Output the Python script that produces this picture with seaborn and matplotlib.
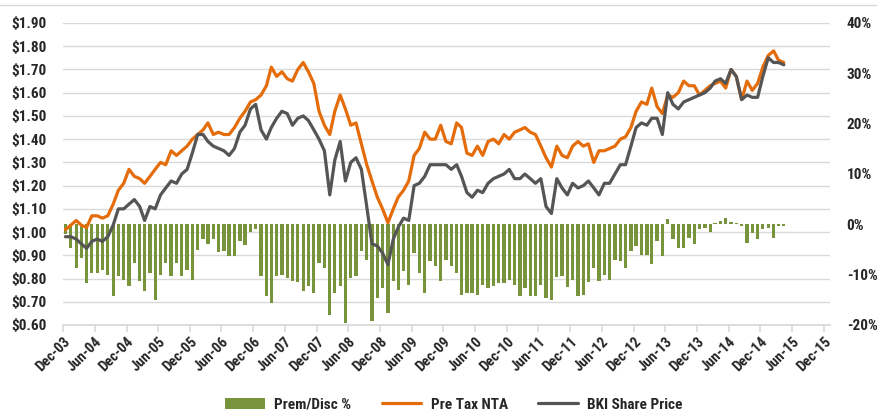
import matplotlib
matplotlib.use("Agg")
import matplotlib.pyplot as plt
import matplotlib.dates as mdates
from matplotlib import font_manager
from matplotlib.lines import Line2D
from matplotlib.patches import Patch
import pandas as pd
import seaborn as sns

# monthly values, Dec-03 .. Apr-15
start_month = "2003-12-01"

pre_tax_nta = [
    1.01, 1.03, 1.05, 1.03, 1.02, 1.07, 1.07, 1.06, 1.07, 1.12,
    1.18, 1.21, 1.27, 1.24, 1.23, 1.21, 1.24, 1.27, 1.30, 1.29,
    1.35, 1.33, 1.35, 1.37, 1.40, 1.42, 1.44, 1.47, 1.42, 1.43,
    1.42, 1.42, 1.45, 1.49, 1.52, 1.56, 1.57, 1.59, 1.63, 1.71,
    1.67, 1.69, 1.66, 1.65, 1.70, 1.73, 1.69, 1.64, 1.52, 1.46,
    1.42, 1.52, 1.59, 1.53, 1.46, 1.47, 1.38, 1.29, 1.22, 1.15,
    1.10, 1.04, 1.10, 1.15, 1.18, 1.22, 1.33, 1.36, 1.43, 1.40,
    1.40, 1.46, 1.39, 1.38, 1.47, 1.45, 1.34, 1.33, 1.37, 1.33,
    1.39, 1.40, 1.38, 1.42, 1.40, 1.43, 1.44, 1.45, 1.43, 1.42,
    1.37, 1.32, 1.28, 1.37, 1.33, 1.32, 1.37, 1.39, 1.37, 1.38,
    1.30, 1.35, 1.35, 1.36, 1.37, 1.40, 1.41, 1.45, 1.52, 1.56,
    1.55, 1.62, 1.54, 1.51, 1.59, 1.58, 1.60, 1.65, 1.63, 1.63,
    1.59, 1.61, 1.63, 1.64, 1.65, 1.62, 1.70, 1.67, 1.57, 1.65,
    1.61, 1.64, 1.71, 1.76, 1.78, 1.74, 1.73,
]

share_price = [
    0.98, 0.98, 0.97, 0.95, 0.93, 0.96, 0.97, 0.96, 0.98, 1.03,
    1.10, 1.10, 1.12, 1.14, 1.11, 1.05, 1.11, 1.10, 1.16, 1.19,
    1.22, 1.21, 1.25, 1.27, 1.34, 1.42, 1.42, 1.39, 1.37, 1.36,
    1.35, 1.33, 1.36, 1.43, 1.46, 1.53, 1.55, 1.44, 1.40, 1.45,
    1.49, 1.52, 1.51, 1.46, 1.49, 1.50, 1.48, 1.44, 1.40, 1.35,
    1.16, 1.31, 1.39, 1.22, 1.30, 1.32, 1.27, 1.11, 0.95, 0.94,
    0.91, 0.86, 0.97, 1.02, 1.06, 1.05, 1.20, 1.21, 1.24, 1.29,
    1.29, 1.29, 1.29, 1.27, 1.29, 1.24, 1.17, 1.15, 1.18, 1.17,
    1.21, 1.23, 1.24, 1.25, 1.27, 1.23, 1.23, 1.25, 1.23, 1.21,
    1.23, 1.11, 1.08, 1.23, 1.19, 1.16, 1.21, 1.19, 1.20, 1.22,
    1.19, 1.16, 1.21, 1.21, 1.25, 1.29, 1.29, 1.37, 1.45, 1.47,
    1.46, 1.49, 1.49, 1.42, 1.60, 1.55, 1.53, 1.56, 1.57, 1.58,
    1.59, 1.60, 1.62, 1.65, 1.66, 1.64, 1.70, 1.67, 1.57, 1.59,
    1.58, 1.58, 1.67, 1.75, 1.73, 1.73, 1.72,
]

prem_disc = [
    -2.0, -4.7, -8.7, -6.7, -11.7, -9.7, -9.7, -9.1, -10.0, -14.3,
    -10.3, -11.0, -12.3, -7.7, -11.3, -13.3, -9.7, -15.0, -10.0, -7.7,
    -10.3, -7.7, -10.3, -9.0, -11.0, -5.0, -3.0, -4.0, -3.0, -5.5,
    -5.3, -6.3, -6.2, -3.3, -4.2, -1.5, -0.9, -10.3, -14.3, -15.7,
    -10.3, -10.0, -10.7, -11.3, -11.5, -13.3, -12.3, -13.7, -7.7, -8.7,
    -18.0, -13.7, -12.3, -19.7, -10.7, -10.3, -5.3, -7.0, -19.3, -14.7,
    -12.7, -17.7, -11.3, -13.0, -9.3, -12.0, -5.7, -9.7, -13.7, -7.3,
    -8.3, -11.3, -7.0, -8.3, -9.7, -14.0, -13.7, -13.7, -14.0, -12.0,
    -12.7, -12.3, -11.7, -11.7, -11.0, -12.0, -14.3, -12.7, -14.3, -14.3,
    -12.0, -14.7, -15.0, -10.5, -10.3, -12.5, -11.0, -14.3, -14.0, -11.5,
    -8.7, -11.3, -10.0, -11.0, -7.0, -7.3, -8.7, -5.3, -4.3, -6.0,
    -6.0, -7.8, -3.3, -6.3, 1.1, -3.0, -4.7, -4.8, -2.7, -4.0,
    -1.0, -0.7, -1.5, 0.3, 0.7, 1.3, 0.5, 0.2, -0.3, -3.7,
    -1.7, -2.9, -1.0, -0.7, -2.7, -0.3, -0.3,
]

ORANGE = "#E46C0A"
GREY = "#555555"
GREEN = "#77933C"
GRID = "#D9D9D9"

months = pd.date_range(start_month, periods=len(pre_tax_nta), freq="MS") + pd.Timedelta(days=14)
df = pd.DataFrame({
    "date": months,
    "Pre Tax NTA": pre_tax_nta,
    "BKI Share Price": share_price,
    "Prem/Disc %": prem_disc,
})

sns.set_theme(style="white")

# the original uses a narrow bold face; take a condensed one if there is one
installed = font_manager.fontManager.ttflist
names = {f.name for f in installed}
narrow = [n for n in ("Liberation Sans Narrow", "Roboto Condensed", "Open Sans Condensed",
                      "Arial Narrow", "DejaVu Sans Condensed") if n in names]
condensed_dejavu = any(f.name == "DejaVu Sans" and "condensed" in str(f.stretch) for f in installed)
if narrow:
    plt.rcParams["font.family"] = [narrow[0], "DejaVu Sans"]
    FS = 11
elif condensed_dejavu:
    plt.rcParams["font.family"] = ["DejaVu Sans"]
    plt.rcParams["font.stretch"] = "condensed"
    FS = 9.5
else:
    plt.rcParams["font.family"] = ["Liberation Sans", "DejaVu Sans"]
    FS = 9.5
plt.rcParams["font.weight"] = "bold"

fig = plt.figure(figsize=(8.78, 4.16), dpi=100)
ax = fig.add_axes([63 / 878, 1 - 325 / 416, (830 - 63) / 878, (325 - 23) / 416])
ax_bar = ax.twinx()
ax_line = ax.twinx()
ax.set_zorder(0)
ax_bar.set_zorder(1)
ax_line.set_zorder(2)
ax_bar.patch.set_visible(False)
ax_line.patch.set_visible(False)

# left axis: grid + dollar labels
ax.set_ylim(0.60, 1.90)
ax.set_yticks([0.60 + 0.10 * i for i in range(14)])
ax.set_yticklabels([f"${0.60 + 0.10 * i:.2f}" for i in range(14)], fontsize=FS, fontweight="bold")
ax.yaxis.grid(True, color=GRID, linewidth=1)
ax.tick_params(axis="y", length=0, pad=12)

# bars on the right axis
ax_bar.bar(df["date"], df["Prem/Disc %"], width=19, color=GREEN, linewidth=0)
ax_bar.set_ylim(-20, 40)
ax_bar.set_yticks(range(-20, 41, 10))
ax_bar.set_yticklabels([f"{v}%" for v in range(-20, 41, 10)], fontsize=FS, fontweight="bold")
ax_bar.tick_params(axis="y", length=0, pad=12)

# lines on the left scale
sns.lineplot(data=df, x="date", y="Pre Tax NTA", ax=ax_line, color=ORANGE, linewidth=2.3)
sns.lineplot(data=df, x="date", y="BKI Share Price", ax=ax_line, color=GREY, linewidth=2.3)
ax_line.set_ylim(0.60, 1.90)
ax_line.set_yticks([])
ax_line.set_ylabel("")
ax_line.set_xlabel("")
ax_bar.set_ylabel("")

for a in (ax, ax_bar, ax_line):
    for side in ("top", "left", "right", "bottom"):
        a.spines[side].set_visible(False)
ax.spines["bottom"].set_visible(True)
ax.spines["bottom"].set_color(GRID)

ax.set_xlim(pd.Timestamp("2003-12-01"), pd.Timestamp("2016-01-06"))
ax.xaxis.set_major_locator(mdates.MonthLocator(bymonth=[6, 12]))
ax.xaxis.set_major_formatter(mdates.DateFormatter("%b-%y"))
ax.tick_params(axis="x", bottom=True, length=5, color=GRID, labelsize=FS - 0.5, pad=2)
for lbl in ax.get_xticklabels():
    lbl.set_rotation(45)
    lbl.set_ha("right")
    lbl.set_rotation_mode("anchor")
    lbl.set_fontweight("bold")
ax_bar.tick_params(axis="x", bottom=False, labelbottom=False)
ax_line.tick_params(axis="x", bottom=False, labelbottom=False)

handles = [
    Patch(facecolor=GREEN, edgecolor="none"),
    Line2D([], [], color=ORANGE, linewidth=2.3),
    Line2D([], [], color=GREY, linewidth=2.3),
]
fig.legend(handles, ["Prem/Disc %", "Pre Tax NTA", "BKI Share Price"],
           loc="center", bbox_to_anchor=(0.517, 0.027), ncol=3, frameon=False,
           prop={"size": FS, "weight": "bold"}, handlelength=2.6, columnspacing=2.0,
           handletextpad=0.6)

fig.add_artist(Line2D([0, 1], [0.988, 0.988], color=GRID, linewidth=1, transform=fig.transFigure))

fig.savefig("out.png", dpi=100)
